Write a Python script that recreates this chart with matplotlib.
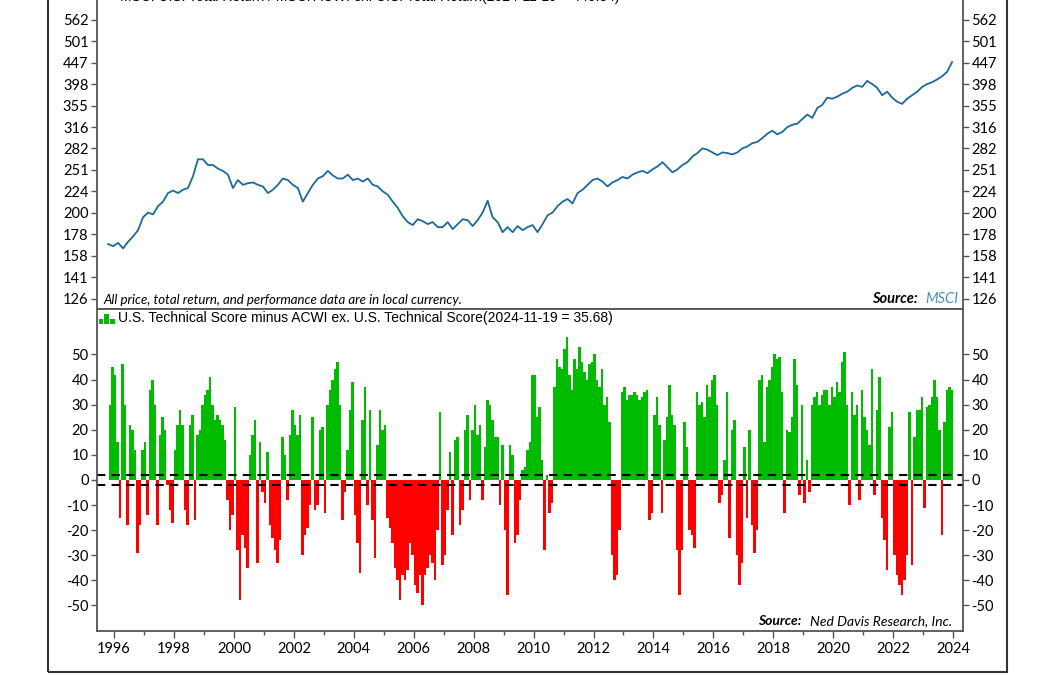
"""U.S. vs ACWI ex. U.S. relative strength and technical score spread."""

import numpy as np
import matplotlib.pyplot as plt
from matplotlib.patches import Rectangle
from matplotlib.ticker import FixedLocator, NullLocator

plt.rcParams["font.family"] = ["Lato", "DejaVu Sans"]
plt.rcParams["axes.unicode_minus"] = False

W, H = 1056, 675

# MSCI U.S. TR / MSCI ACWI ex. U.S. TR, sampled every two months
ratio_start = 1995.80
ratio_step = 2 / 12
ratio_values = [
    169, 167, 170, 165, 171, 176, 182, 195, 200, 198,
    207, 212, 222, 225, 222, 226, 228, 243, 266, 266,
    258, 258, 253, 250, 245, 228, 238, 232, 234, 235,
    232, 230, 222, 226, 232, 240, 238, 232, 228, 212,
    222, 232, 240, 243, 250, 244, 240, 240, 245, 238,
    240, 236, 240, 232, 230, 224, 220, 212, 205, 196,
    190, 187, 193, 191, 188, 190, 185, 185, 190, 183,
    188, 193, 192, 186, 192, 200, 213, 195, 190, 180,
    185, 180, 186, 182, 185, 187, 180, 188, 197, 200,
    207, 212, 215, 210, 222, 226, 232, 238, 240, 236,
    230, 235, 238, 242, 240, 245, 248, 250, 247, 252,
    256, 262, 255, 248, 252, 258, 262, 270, 275, 282,
    280, 276, 272, 276, 275, 273, 276, 282, 285, 290,
    292, 298, 305, 310, 304, 308, 316, 320, 322, 330,
    338, 332, 350, 356, 370, 368, 372, 378, 382, 390,
    395, 392, 405, 398, 390, 375, 382, 370, 362, 358,
    368, 375, 382, 392, 398, 402, 408, 415, 425, 448,
]
ratio_tick_pos = [10 ** (2 + 0.05 * k) for k in range(2, 16)]
ratio_tick_labels = ["126", "141", "158", "178", "200", "224", "251",
                     "282", "316", "355", "398", "447", "501", "562"]

# U.S. technical score minus ACWI ex. U.S. technical score, monthly
score_start = 1995.83
score_step = 1 / 12
score_values = [
    30, 45, 42, 15, -15, 46, 30, -18, 22, 20,
    12, -29, -18, 12, 15, -14, 36, 40, 30, -18,
    18, 25, 20, -2, -12, -17, 12, 22, 28, 22,
    -12, -18, 22, 26, -16, 18, 20, 30, 34, 36,
    41, 30, 24, 26, 24, 22, 16, -8, -20, -14,
    29, -28, -48, -22, -27, -35, 10, 18, 24, -33,
    15, -5, -9, 11, -18, -23, -28, -33, -24, 17,
    10, -8, 18, 28, 22, 18, 26, -30, -22, -19,
    -10, 25, -12, -10,
    20, 21, -13, 30, 36, 40, 44, 47, 30, -16,
    -5, 12, 28, 39, -14, -25, -37, 24, 37, -10,
    28, -16, -31, 14, 28, 20, 22, -15, -19, -25,
    -35, -40, -48, -38, -40, -36, -25, -30, -42, -45,
    -38, -50, -38, -35, -30, -33, -40, -20, 27, -34,
    -30, -12, 11, -22, 16, 17, -18, -12, 20, 26,
    -8, 20, 30, 18, 22, -8, 13, 32, 30, 24,
    17, 17, -10, 14, -20, -46, 14, 10, -25, -22,
    -8, 4, 5, 12, 15, 42, 42,
    25, 29, 8, -28, 2, -13, -9, 37, 48, 45,
    44, 52, 57, 42, 36, 48, 44, 53, 47, 43,
    40, 46, 47, 50, 40, 37, 44, 30, 33, 23,
    -30, -40, -38, -20, 35, 37, 32, 34, 34, 35,
    34, 32, 33, 35, 36, -16, -13, 26, 33, 22,
    -13, 16, 25, 38, 26, 22, -28, -46, -28, 23,
    13, -20, -22, -27, 35, 30, 31, 25, 38, 33,
    40, 42, 30, -9, -6, 8, 35, -23, 20, 24,
    -30, -42, -33, 13, -15, 20,
    -18, -29, -20, 40, 42, 15, 37, 40, 45, 50,
    48, 49, 35, -13, 20, 19, 25, 48, 38, -6,
    30, -9, 8, -5, 30, 33, 35, 30, 34, 36,
    36, 30, 37, 33, 39, 35, 47, 51, 30, -10,
    35, 26, 30, -8, 36, 25, 20, 14, 44, -6,
    28, 41, -15, -24, -36, 21, 27, -30, -38, -42,
    -46, -40, -30, 27, -34, 17, 28, 28, 33, -11,
    29, 30, 33, 40, 33, 20, -22, 23, 36, 37,
    35.68,
]
score_ticks = list(range(-50, 51, 10))
year_major = list(range(1996, 2025, 2))
year_minor = list(range(1997, 2025, 2))

LINE_BLUE = "#1b6a9a"
GREEN = "#00bb00"
RED = "#ff0000"
SPINE = "#555555"


def px_box(left, top, right, bottom):
    return [left / W, 1 - bottom / H, (right - left) / W, (bottom - top) / H]


def style_axes(ax):
    for side in ("left", "right", "bottom", "top"):
        ax.spines[side].set_color(SPINE)
        ax.spines[side].set_linewidth(1.3)
    ax.tick_params(axis="y", which="both", left=True, right=True,
                   labelleft=True, labelright=True, direction="out",
                   length=4, width=1, color=SPINE, labelsize=10.5, pad=2)


fig = plt.figure(figsize=(W / 100, H / 100), dpi=100)
ax1 = fig.add_axes(px_box(97, -8, 963, 309))
ax2 = fig.add_axes(px_box(97, 309, 963, 631), sharex=ax1)

# top panel: relative total return line
ratio_x = ratio_start + ratio_step * np.arange(len(ratio_values))
ax1.plot(ratio_x, ratio_values, color=LINE_BLUE, lw=1.3)
ax1.set_yscale("log")
ax1.set_ylim(119.3, 651.7)
ax1.yaxis.set_major_locator(FixedLocator(ratio_tick_pos))
ax1.yaxis.set_minor_locator(NullLocator())
ax1.set_yticklabels(ratio_tick_labels)
style_axes(ax1)
ax1.tick_params(axis="x", which="both", bottom=False, labelbottom=False)

ax1.text(0.008, 0.008, "All price, total return, and performance data are in local currency.",
         transform=ax1.transAxes, fontsize=9.5, style="italic", va="bottom", ha="left")
ax1.text(0.994, 0.008, "MSCI", transform=ax1.transAxes, fontsize=10.5,
         style="italic", color="#4a8fc2", va="bottom", ha="right")
ax1.text(0.948, 0.008, "Source:", transform=ax1.transAxes, fontsize=10.5,
         style="italic", weight="bold", va="bottom", ha="right")

# bottom panel: technical score spread
score_x = score_start + score_step * np.arange(len(score_values))
colors = [GREEN if v >= 0 else RED for v in score_values]
ax2.bar(score_x, score_values, width=score_step, align="edge",
        color=colors, linewidth=0)
ax2.axhline(2, color="black", lw=1.5, ls=(0, (4, 3)))
ax2.axhline(-2, color="black", lw=1.5, ls=(0, (4, 3)))
ax2.set_ylim(-60.2, 68.1)
ax2.yaxis.set_major_locator(FixedLocator(score_ticks))
style_axes(ax2)

ax2.set_xlim(1995.43, 2024.33)
ax2.xaxis.set_major_locator(FixedLocator(year_major))
ax2.xaxis.set_minor_locator(FixedLocator(year_minor))
ax2.tick_params(axis="x", which="major", direction="out", length=5, width=1,
                color=SPINE, labelsize=10.5, pad=3)
ax2.tick_params(axis="x", which="minor", direction="out", length=3, width=1,
                color=SPINE)

# legend icon: three little green bars
ax_h = 631 - 309
for left, right, top in [(99, 103, 319), (104, 109, 314), (110, 115, 319)]:
    ax2.add_patch(Rectangle(((left - 97) / 866, 1 - (324 - 309) / ax_h),
                            (right - left) / 866, (324 - top) / ax_h,
                            transform=ax2.transAxes, color=GREEN,
                            clip_on=False, lw=0))
ax2.text((118 - 97) / 866, 1 - (318.5 - 309) / ax_h,
         "U.S. Technical Score minus ACWI ex. U.S. Technical Score(2024-11-19 = 35.68)",
         transform=ax2.transAxes, fontsize=10, family="Liberation Sans",
         va="center", ha="left")
ax2.text(0.9875, 0.012, "Ned Davis Research, Inc.", transform=ax2.transAxes,
         fontsize=10, style="italic", va="bottom", ha="right")
ax2.text((801 - 97) / 866, 0.012, "Source:", transform=ax2.transAxes,
         fontsize=10, style="italic", weight="bold", va="bottom", ha="right")

# header of the (cropped) upper panel
fig.text(120 / W, 1 - 1 / H,
         "MSCI U.S. Total Return / MSCI ACWI ex. U.S. Total Return(2024-11-19 = 440.34)",
         fontsize=10, family="Liberation Sans", va="baseline", ha="left")

# outer frame
fig.add_artist(Rectangle((48 / W, 1 - 672 / H), 959 / W, 0.1 + 672 / H,
                         transform=fig.transFigure, fill=False,
                         ec="#333333", lw=1.5))

fig.savefig("out.png", dpi=100)
